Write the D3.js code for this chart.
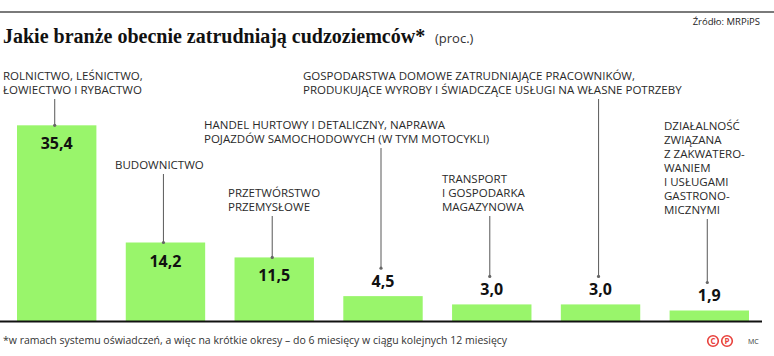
<!DOCTYPE html>
<html><head><meta charset="utf-8">
<script src="https://cdn.jsdelivr.net/npm/d3@7/dist/d3.min.js"></script>
<style>
html,body{margin:0;padding:0;background:#fff;}
svg{display:block;}
</style></head>
<body>
<script>
// ---- data ----
const categories = [
  "ROLNICTWO, LEŚNICTWO, ŁOWIECTWO I RYBACTWO",
  "BUDOWNICTWO",
  "PRZETWÓRSTWO PRZEMYSŁOWE",
  "HANDEL HURTOWY I DETALICZNY, NAPRAWA POJAZDÓW SAMOCHODOWYCH (W TYM MOTOCYKLI)",
  "TRANSPORT I GOSPODARKA MAGAZYNOWA",
  "GOSPODARSTWA DOMOWE ZATRUDNIAJĄCE PRACOWNIKÓW, PRODUKUJĄCE WYROBY I ŚWIADCZĄCE USŁUGI NA WŁASNE POTRZEBY",
  "DZIAŁALNOŚĆ ZWIĄZANA Z ZAKWATEROWANIEM I USŁUGAMI GASTRONOMICZNYMI"
];
const values = [35.4, 14.2, 11.5, 4.5, 3.0, 3.0, 1.9];
const valueLabels = ["35,4", "14,2", "11,5", "4,5", "3,0", "3,0", "1,9"];
const labelLines = [
  ["ROLNICTWO, LEŚNICTWO,", "ŁOWIECTWO I RYBACTWO"],
  ["BUDOWNICTWO"],
  ["PRZETWÓRSTWO", "PRZEMYSŁOWE"],
  ["HANDEL HURTOWY I DETALICZNY, NAPRAWA", "POJAZDÓW SAMOCHODOWYCH (W TYM MOTOCYKLI)"],
  ["TRANSPORT", "I GOSPODARKA", "MAGAZYNOWA"],
  ["GOSPODARSTWA DOMOWE ZATRUDNIAJĄCE PRACOWNIKÓW,", "PRODUKUJĄCE WYROBY I ŚWIADCZĄCE USŁUGI NA WŁASNE POTRZEBY"],
  ["DZIAŁALNOŚĆ", "ZWIĄZANA", "Z ZAKWATERO-", "WANIEM", "I USŁUGAMI", "GASTRONO-", "MICZNYMI"]
];
const titleText = "Jakie branże obecnie zatrudniają cudzoziemców*";
const unitText = "(proc.)";
const sourceText = "Źródło: MRPiPS";
const footnoteText = "*w ramach systemu oświadczeń, a więc na krótkie okresy – do 6 miesięcy w ciągu kolejnych 12 miesięcy";

// ---- layout (annotation placement: left x, first baseline y) ----
const labelLayout = [
  {x: 3, y: 80}, {x: 115, y: 169}, {x: 228, y: 197}, {x: 204, y: 129},
  {x: 442, y: 183}, {x: 303, y: 80}, {x: 664, y: 130}
];
const lineH = 14;

const W = 774, H = 356;
const baseY = 321;
const svg = d3.select("body").append("svg").attr("width", W).attr("height", H);

const x = d3.scaleBand().domain(categories).range([17, 749]).paddingInner(0.27).paddingOuter(0);
const y = d3.scaleLinear().domain([0, 36]).range([baseY, 122]);

// top rule
svg.append("line").attr("x1", 0).attr("x2", W).attr("y1", 12).attr("y2", 12)
  .attr("stroke", "#7a7a7a").attr("stroke-width", 2);

// title
const title = svg.append("text").attr("x", 3).attr("y", 43)
  .style("font-family", "'Liberation Serif', serif").style("font-weight", "bold")
  .style("font-size", "20px").attr("fill", "#111").text(titleText);
svg.append("text").attr("x", 435).attr("y", 43)
  .style("font-family", "'Open Sans', sans-serif").style("font-size", "13px")
  .attr("fill", "#333").text(unitText);
svg.append("text").attr("x", 760).attr("y", 25).attr("text-anchor", "end")
  .style("font-family", "'Open Sans', sans-serif").style("font-size", "9.5px")
  .attr("fill", "#222").text(sourceText);

// bars
const data = categories.map((c, i) => ({c, v: values[i], lab: valueLabels[i], lines: labelLines[i], pos: labelLayout[i]}));

svg.append("g").selectAll("rect").data(data).join("rect")
  .attr("x", d => x(d.c)).attr("width", x.bandwidth())
  .attr("y", d => y(d.v)).attr("height", d => baseY - y(d.v))
  .attr("fill", "#99f56b");

// axis baseline
svg.append("line").attr("x1", 0).attr("x2", 762).attr("y1", baseY + 0.5).attr("y2", baseY + 0.5)
  .attr("stroke", "#111").attr("stroke-width", 2);

// value labels
const inside = d => (baseY - y(d.v)) > 40;
const valBase = d => inside(d) ? y(d.v) + 24 : y(d.v) - 9;
svg.append("g").selectAll("text").data(data).join("text")
  .attr("x", d => x(d.c) + x.bandwidth() / 2)
  .attr("y", valBase)
  .attr("text-anchor", "middle")
  .style("font-family", "'Open Sans', sans-serif").style("font-weight", "bold")
  .style("font-size", "16px").attr("fill", "#111")
  .text(d => d.lab);

// category labels
const lg = svg.append("g").style("font-family", "'Open Sans', sans-serif")
  .style("font-size", "11.5px").attr("fill", "#2a2a2a");
data.forEach(d => {
  const t = lg.append("text").attr("x", d.pos.x).attr("y", d.pos.y);
  d.lines.forEach((ln, j) => {
    t.append("tspan").attr("x", d.pos.x).attr("y", d.pos.y + j * lineH).text(ln);
  });
});

// leader lines
const leaderX = d => x(d.c) + x.bandwidth() / 2 - 2;
const leaderTop = d => d.pos.y + (d.lines.length - 1) * lineH + 5;
const leaderBot = d => inside(d) ? y(d.v) : valBase(d) - 19;
const leaders = svg.append("g");
leaders.selectAll("line").data(data).join("line")
  .attr("x1", leaderX).attr("x2", leaderX)
  .attr("y1", leaderTop).attr("y2", leaderBot)
  .attr("stroke", "#666").attr("stroke-width", 1.1);
leaders.selectAll("circle").data(data).join("circle")
  .attr("cx", leaderX).attr("cy", leaderBot).attr("r", 1.6)
  .attr("fill", "#666");

// footnote
svg.append("text").attr("x", 3).attr("y", 344)
  .style("font-family", "'Open Sans', sans-serif").style("font-size", "10.5px")
  .attr("fill", "#333").text(footnoteText);

// copyright marks
const marks = [{cx: 713, t: "C"}, {cx: 727, t: "P"}];
const mg = svg.append("g");
marks.forEach(m => {
  mg.append("circle").attr("cx", m.cx).attr("cy", 341).attr("r", 5.3)
    .attr("fill", "none").attr("stroke", "#e8413c").attr("stroke-width", 1.6);
  mg.append("text").attr("x", m.cx).attr("y", 344).attr("text-anchor", "middle")
    .style("font-family", "'Open Sans', sans-serif").style("font-weight", "bold")
    .style("font-size", "8px").attr("fill", "#e8413c").text(m.t);
});
svg.append("text").attr("x", 748).attr("y", 344)
  .style("font-family", "'Open Sans', sans-serif").style("font-size", "7px")
  .attr("fill", "#333").text("MC");
</script>
</body></html>
